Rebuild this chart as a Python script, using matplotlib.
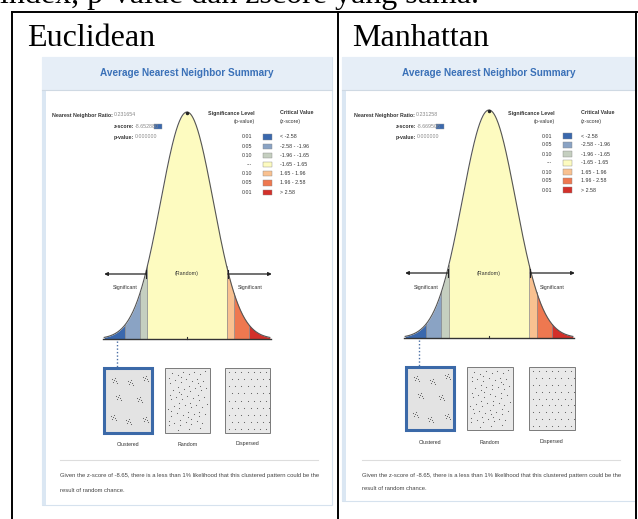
import numpy as np
import matplotlib.pyplot as plt
from matplotlib.patches import Rectangle

# values shown in the two ArcGIS summaries
headings = ["Euclidean", "Manhattan"]
nn_ratio = ["0.231654", "0.231258"]
z_scores = ["-8.652880", "-8.669506"]
p_values = ["0.000000", "0.000000"]
z_given = ["-8.65", "-8.65"]

sig_levels = ["0.01", "0.05", "0.10", "---", "0.10", "0.05", "0.01"]
crit_values = ["< -2.58", "-2.58 - -1.96", "-1.96 - -1.65", "-1.65 - 1.65",
               "1.65 - 1.96", "1.96 - 2.58", "> 2.58"]
z_edges = [-3.45, -2.58, -1.96, -1.65, 1.65, 1.96, 2.58, 3.45]
band_colors = ["#3a68ad", "#8aa3c4", "#c5cfc0", "#fdfbc0", "#f9c190", "#ee7850", "#d3302a"]
pattern_labels = ["Clustered", "Random", "Dispersed"]

# layout of the two screenshots (pixels)
panels = [
    dict(x0=42, x1=332, ytop=57, ybot=505, mu=187, zpx=24, base=339, peak=112,
         ratio_x=60, ratio_y=115, colon_x=134, z_y=126, p_y=137,
         lp_x=252, sw_x=263, lc_x=280, lh_y=113, row0=137, dy=9.2,
         arrow_y=274, sig_y=288,
         boxes=[(104, 152), (165, 210), (225, 270)], btop=368, bbot=433, lab_y=444,
         sep=(60, 318, 460), txt_x=60, txt_y=(476, 490)),
    dict(x0=342, x1=636, ytop=57, ybot=501, mu=489, zpx=24.3, base=338, peak=110,
         ratio_x=362, ratio_y=115, colon_x=416, z_y=126, p_y=137,
         lp_x=552, sw_x=563, lc_x=581, lh_y=113, row0=136, dy=9.0,
         arrow_y=273, sig_y=287,
         boxes=[(406, 454), (467, 513), (529, 575)], btop=367, bbot=430, lab_y=442,
         sep=(362, 620, 460), txt_x=362, txt_y=(475, 488)),
]

SANS = "Liberation Sans"
SERIF = "Liberation Serif"


def bell(z):
    return np.exp(-z ** 2 / 2.4)


def dots_clustered(x0, x1, y0, y1):
    centers = [(0.2, 0.18), (0.55, 0.22), (0.85, 0.15), (0.3, 0.45), (0.72, 0.48),
               (0.18, 0.75), (0.5, 0.82), (0.85, 0.78)]
    offs = [(0, 0), (2, 1), (-1, 2), (1, -2), (3, 3), (-2, -1)]
    xs, ys = [], []
    for cx, cy in centers:
        for dx, dy in offs:
            xs.append(x0 + cx * (x1 - x0) + dx)
            ys.append(y0 + cy * (y1 - y0) + dy)
    return xs, ys


def dots_random(x0, x1, y0, y1, n=70):
    g = 1.32471795724474602596
    k = np.arange(1, n + 1)
    u = (0.5 + k / g) % 1
    v = (0.5 + k / g ** 2) % 1
    return x0 + 3 + u * (x1 - x0 - 6), y0 + 3 + v * (y1 - y0 - 6)


def dots_dispersed(x0, x1, y0, y1):
    xs, ys = [], []
    for r in range(9):
        for c in range(7):
            xs.append(x0 + 4 + c * (x1 - x0 - 8) / 6 + (3 if r % 2 else 0))
            ys.append(y0 + 4 + r * (y1 - y0 - 8) / 8)
    return xs, ys


def draw_panel(ax, p, i):
    x0, x1 = p["x0"], p["x1"]
    # frame, header band, left strip
    ax.add_patch(Rectangle((x0, p["ytop"]), x1 - x0, p["ybot"] - p["ytop"],
                           facecolor="white", edgecolor="#d6e2ee", lw=0.8))
    ax.add_patch(Rectangle((x0, p["ytop"]), x1 - x0, 33, facecolor="#e6eef7",
                           edgecolor="none"))
    ax.plot([x0, x1], [p["ytop"] + 33, p["ytop"] + 33], color="#cfd9e3", lw=0.8)
    ax.add_patch(Rectangle((x0, p["ytop"] + 33), 4, p["ybot"] - p["ytop"] - 33,
                           facecolor="#dbe7f3", edgecolor="none"))
    ax.text(p["mu"], p["ytop"] + 16, "Average Nearest Neighbor Summary", family=SANS,
            fontsize=7.2, weight="bold", color="#3b71b8", ha="center", va="center")

    # statistics
    small = dict(family=SANS, fontsize=3.8, color="#333333", va="center")
    grey = dict(small, color="#888888")
    ax.text(p["ratio_x"] + 53, p["ratio_y"], "Nearest Neighbor Ratio:", weight="bold",
            ha="right", **small)
    ax.text(p["ratio_x"] + 54, p["ratio_y"], nn_ratio[i], ha="left", **grey)
    ax.text(p["colon_x"], p["z_y"], "z-score:", weight="bold", ha="right", **small)
    ax.text(p["colon_x"] + 1, p["z_y"], z_scores[i], ha="left", **grey)
    ax.add_patch(Rectangle((p["colon_x"] + 20, p["z_y"] - 2.5), 8, 5, facecolor=band_colors[0],
                           edgecolor="#999999", lw=0.3))
    ax.text(p["colon_x"], p["p_y"], "p-value:", weight="bold", ha="right", **small)
    ax.text(p["colon_x"] + 1, p["p_y"], p_values[i], ha="left", **grey)

    # legend
    ax.text(p["lp_x"] + 3, p["lh_y"], "Significance Level", ha="right", weight="bold", **small)
    ax.text(p["lp_x"] + 3, p["lh_y"] + 8, "(p-value)", ha="right", **small)
    ax.text(p["lc_x"], p["lh_y"], "Critical Value", ha="left", weight="bold", **small)
    ax.text(p["lc_x"], p["lh_y"] + 8, "(z-score)", ha="left", **small)
    for k, (s, c, col) in enumerate(zip(sig_levels, crit_values, band_colors)):
        y = p["row0"] + k * p["dy"]
        ax.text(p["lp_x"], y, s, ha="right", **small)
        ax.add_patch(Rectangle((p["sw_x"], y - 2.6), 9, 5.2, facecolor=col,
                               edgecolor="#888888", lw=0.3))
        ax.text(p["lc_x"], y, c, ha="left", **small)

    # bell curve with coloured bands
    mu, zpx, base, h = p["mu"], p["zpx"], p["base"], p["base"] - p["peak"]
    for k, col in enumerate(band_colors):
        z = np.linspace(z_edges[k], z_edges[k + 1], 80)
        ax.fill_between(mu + z * zpx, base - h * bell(z), base, color=col, lw=0)
    for ze in z_edges[1:-1]:
        ax.plot([mu + ze * zpx] * 2, [base, base - h * bell(ze)], color="#888888", lw=0.5)
    z = np.linspace(z_edges[0], z_edges[-1], 300)
    ax.plot(mu + z * zpx, base - h * bell(z), color="#555555", lw=0.8)
    ax.plot([mu + z_edges[0] * zpx - 1, mu + z_edges[-1] * zpx + 1], [base, base],
            color="#333333", lw=1.0)
    ax.plot([mu, mu], [base - 2, base], color="#333333", lw=0.8)
    ax.plot([mu], [p["peak"] + 1], marker="o", ms=1.5, color="#222222")

    # significance arrows
    ay = p["arrow_y"]
    left_in, right_in = mu - 1.7 * zpx, mu + 1.7 * zpx
    left_out, right_out = mu + z_edges[0] * zpx, mu + z_edges[-1] * zpx + 2
    arr = dict(arrowstyle="-|>", color="#222222", lw=0.9, mutation_scale=5, shrinkA=0, shrinkB=0)
    ax.annotate("", xy=(left_out, ay), xytext=(left_in, ay), arrowprops=arr)
    ax.annotate("", xy=(right_out, ay), xytext=(right_in, ay), arrowprops=arr)
    for xx in (left_in, right_in):
        ax.plot([xx, xx], [ay - 4, ay + 4], color="#222222", lw=0.8)
    ax.text(mu, ay, "(Random)", ha="center", **small)
    ax.text((left_out + left_in) / 2, p["sig_y"], "Significant", ha="center", **small)
    ax.text((right_out + right_in) / 2, p["sig_y"], "Significant", ha="center", **small)

    # dotted line to the clustered pattern
    dx = mu - 2.9 * zpx
    ax.plot([dx, dx], [base + 2, p["btop"]], color="#4a6fa5", lw=1.0, ls=(0, (1, 1.5)))

    # pattern boxes
    funcs = [dots_clustered, dots_random, dots_dispersed]
    for k, (bx0, bx1) in enumerate(p["boxes"]):
        bt, bb = p["btop"], p["bbot"]
        if k == 0:
            ax.add_patch(Rectangle((bx0 + 1.5, bt + 1.5), bx1 - bx0, bb - bt,
                                   facecolor="#c8c8c8", edgecolor="none"))
            ax.add_patch(Rectangle((bx0, bt), bx1 - bx0, bb - bt, facecolor="#e3e3e3",
                                   edgecolor="#3b69a8", lw=2.2))
        else:
            ax.add_patch(Rectangle((bx0, bt), bx1 - bx0, bb - bt, facecolor="#e9e9e9",
                                   edgecolor="#7a7a7a", lw=0.7))
        xs, ys = funcs[k](bx0, bx1, bt, bb)
        ax.scatter(xs, ys, s=0.6, color="#555555", lw=0)
        ax.text((bx0 + bx1) / 2, p["lab_y"], pattern_labels[k], ha="center", **small)

    sx0, sx1, sy = p["sep"]
    ax.plot([sx0, sx1], [sy, sy], color="#dddddd", lw=0.8)
    txt = dict(family=SANS, fontsize=4.2, color="#444444", va="center", ha="left")
    ax.text(p["txt_x"], p["txt_y"][0],
            f"Given the z-score of {z_given[i]}, there is a less than 1% likelihood that "
            "this clustered pattern could be the", **txt)
    ax.text(p["txt_x"], p["txt_y"][1], "result of random chance.", **txt)


fig = plt.figure(figsize=(6.38, 5.19), dpi=100)
ax = fig.add_axes([0, 0, 1, 1])
ax.set_xlim(0, 638)
ax.set_ylim(519, 0)
ax.axis("off")

# cut-off sentence above the table (only its lower edge is visible)
ax.text(0, 3, "index, p-value dan zscore yang sama.", family=SERIF, fontsize=23,
        ha="left", va="baseline", color="black")

for i, p in enumerate(panels):
    draw_panel(ax, p, i)

# table borders
lw = 1.4
ax.plot([12, 638], [12, 12], color="black", lw=lw)
for xx in (12, 338, 636):
    ax.plot([xx, xx], [12, 519], color="black", lw=lw)
ax.text(27, 46, headings[0], family=SERIF, fontsize=23, ha="left", va="baseline")
ax.text(352, 46, headings[1], family=SERIF, fontsize=23, ha="left", va="baseline")

fig.savefig("out.png", dpi=100)
